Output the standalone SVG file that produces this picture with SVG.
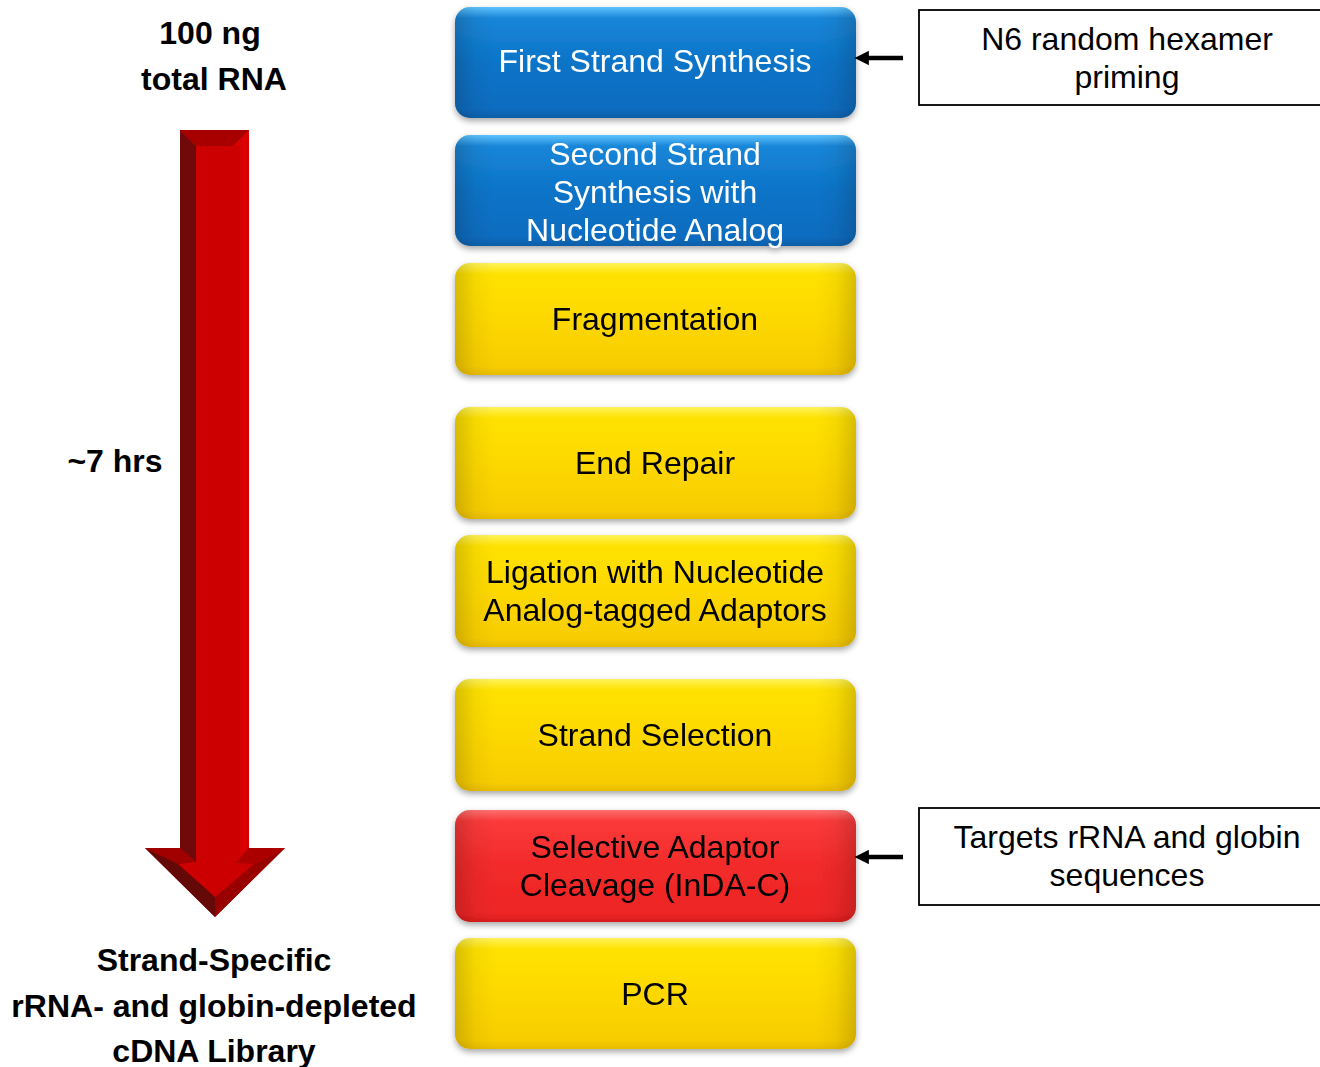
<svg xmlns="http://www.w3.org/2000/svg" width="1320" height="1067" viewBox="0 0 1320 1067">
  <defs>
    <linearGradient id="gBlue" x1="0" y1="0" x2="0" y2="1">
      <stop offset="0" stop-color="#5ec4ff"/>
      <stop offset="0.1" stop-color="#1a86d8"/>
      <stop offset="0.5" stop-color="#0a74c8"/>
      <stop offset="0.92" stop-color="#0a6cbf"/>
      <stop offset="1" stop-color="#0a5ea8"/>
    </linearGradient>
    <linearGradient id="gYellow" x1="0" y1="0" x2="0" y2="1">
      <stop offset="0" stop-color="#fff35a"/>
      <stop offset="0.1" stop-color="#ffe200"/>
      <stop offset="0.5" stop-color="#fdd800"/>
      <stop offset="0.92" stop-color="#f7cd00"/>
      <stop offset="1" stop-color="#e8bc00"/>
    </linearGradient>
    <linearGradient id="gRed" x1="0" y1="0" x2="0" y2="1">
      <stop offset="0" stop-color="#ff7070"/>
      <stop offset="0.1" stop-color="#fb3a3a"/>
      <stop offset="0.5" stop-color="#f22a2a"/>
      <stop offset="0.92" stop-color="#ee2626"/>
      <stop offset="1" stop-color="#d81c1c"/>
    </linearGradient>
    <linearGradient id="gSides" x1="0" y1="0" x2="1" y2="0">
      <stop offset="0" stop-color="#000" stop-opacity="0.16"/>
      <stop offset="0.05" stop-color="#000" stop-opacity="0.04"/>
      <stop offset="0.1" stop-color="#000" stop-opacity="0"/>
      <stop offset="0.9" stop-color="#000" stop-opacity="0"/>
      <stop offset="0.95" stop-color="#000" stop-opacity="0.04"/>
      <stop offset="1" stop-color="#000" stop-opacity="0.16"/>
    </linearGradient>
    <filter id="shadow" x="-5%" y="-10%" width="110%" height="130%">
      <feDropShadow dx="0" dy="3" stdDeviation="3" flood-color="#000" flood-opacity="0.35"/>
    </filter>
    <marker id="head" viewBox="0 0 10 10" refX="2" refY="5" markerWidth="3.2" markerHeight="3.2" orient="auto">
      <path d="M0,0 L10,5 L0,10 z" fill="#000"/>
    </marker>
  </defs>
  <style>
    .bold { font-family: "Liberation Sans", Arial, sans-serif; font-weight: bold; font-size: 32px; fill: #000; text-anchor: middle; }
    .lbl { font-family: "Liberation Sans", Arial, sans-serif; font-size: 32px; text-anchor: middle; }
    .light { fill: #fff; }
    .dark { fill: #000; }
    .note { fill: #fff; stroke: #000; stroke-width: 1.8; }
    .conn { stroke: #000; stroke-width: 4.5; fill: none; }
  </style>

  <rect width="1320" height="1067" fill="#fff"/>

  <!-- timeline labels -->
  <g id="start-label">
    <text class="bold" x="210" y="44">100 ng</text>
    <text class="bold" x="214" y="90">total RNA</text>
  </g>
  <g id="duration-label">
    <text class="bold" x="115" y="472">~7 hrs</text>
  </g>
  <g id="end-label">
    <text class="bold" x="214" y="971">Strand-Specific</text>
    <text class="bold" x="214" y="1017">rRNA- and globin-depleted</text>
    <text class="bold" x="214" y="1062">cDNA Library</text>
  </g>

  <!-- big bevelled downward arrow -->
  <g id="time-arrow">
    <polygon points="180,130 249,130 249,848 285,848 215,917 145,848 180,848" fill="#cc0000"/>
    <polygon points="233,146 249,130 249,848 240,856 240,146" fill="#d80000"/>
    <polygon points="180,130 196,146 196,862 180,848" fill="#700a0a"/>
    <polygon points="180,130 249,130 233,146 196,146" fill="#a80000"/>
    <polygon points="145,848 180,848 196,862 178,864" fill="#a00000"/>
    <polygon points="145,848 178,864 215,897 215,917" fill="#650808"/>
    <polygon points="215,917 215,897 254,864 285,848" fill="#990000"/>
    <polygon points="249,848 285,848 254,864 236,863" fill="#aa0000"/>
  </g>

  <!-- workflow steps -->
  <g id="step-first-strand" filter="url(#shadow)">
    <rect x="455" y="7" width="401" height="111" rx="15" fill="url(#gBlue)"/>
    <rect x="455" y="7" width="401" height="111" rx="15" fill="url(#gSides)"/>
    <text class="lbl light" x="655" y="72">First Strand Synthesis</text>
  </g>
  <g id="step-second-strand" filter="url(#shadow)">
    <rect x="455" y="135" width="401" height="111" rx="15" fill="url(#gBlue)"/>
    <rect x="455" y="135" width="401" height="111" rx="15" fill="url(#gSides)"/>
    <text class="lbl light" x="655" y="165">Second Strand</text>
    <text class="lbl light" x="655" y="203">Synthesis with</text>
    <text class="lbl light" x="655" y="241">Nucleotide Analog</text>
  </g>
  <g id="step-fragmentation" filter="url(#shadow)">
    <rect x="455" y="263" width="401" height="112" rx="15" fill="url(#gYellow)"/>
    <rect x="455" y="263" width="401" height="112" rx="15" fill="url(#gSides)"/>
    <text class="lbl dark" x="655" y="330">Fragmentation</text>
  </g>
  <g id="step-end-repair" filter="url(#shadow)">
    <rect x="455" y="407" width="401" height="112" rx="15" fill="url(#gYellow)"/>
    <rect x="455" y="407" width="401" height="112" rx="15" fill="url(#gSides)"/>
    <text class="lbl dark" x="655" y="474">End Repair</text>
  </g>
  <g id="step-ligation" filter="url(#shadow)">
    <rect x="455" y="535" width="401" height="112" rx="15" fill="url(#gYellow)"/>
    <rect x="455" y="535" width="401" height="112" rx="15" fill="url(#gSides)"/>
    <text class="lbl dark" x="655" y="583">Ligation with Nucleotide</text>
    <text class="lbl dark" x="655" y="621">Analog-tagged Adaptors</text>
  </g>
  <g id="step-strand-selection" filter="url(#shadow)">
    <rect x="455" y="679" width="401" height="112" rx="15" fill="url(#gYellow)"/>
    <rect x="455" y="679" width="401" height="112" rx="15" fill="url(#gSides)"/>
    <text class="lbl dark" x="655" y="746">Strand Selection</text>
  </g>
  <g id="step-cleavage" filter="url(#shadow)">
    <rect x="455" y="810" width="401" height="112" rx="15" fill="url(#gRed)"/>
    <rect x="455" y="810" width="401" height="112" rx="15" fill="url(#gSides)"/>
    <text class="lbl dark" x="655" y="858">Selective Adaptor</text>
    <text class="lbl dark" x="655" y="896">Cleavage (InDA-C)</text>
  </g>
  <g id="step-pcr" filter="url(#shadow)">
    <rect x="455" y="938" width="401" height="111" rx="15" fill="url(#gYellow)"/>
    <rect x="455" y="938" width="401" height="111" rx="15" fill="url(#gSides)"/>
    <text class="lbl dark" x="655" y="1005">PCR</text>
  </g>

  <!-- side notes -->
  <g id="note-priming">
    <rect class="note" x="919" y="10" width="410" height="95"/>
    <text class="lbl dark" x="1127" y="50">N6 random hexamer</text>
    <text class="lbl dark" x="1127" y="88">priming</text>
  </g>
  <g id="note-targets">
    <rect class="note" x="919" y="808" width="410" height="97"/>
    <text class="lbl dark" x="1127" y="848">Targets rRNA and globin</text>
    <text class="lbl dark" x="1127" y="886">sequences</text>
  </g>

  <!-- connectors from notes to steps -->
  <g id="connectors">
    <line class="conn" x1="903" y1="58" x2="866" y2="58" marker-end="url(#head)"/>
    <line class="conn" x1="903" y1="857" x2="866" y2="857" marker-end="url(#head)"/>
  </g>
</svg>
